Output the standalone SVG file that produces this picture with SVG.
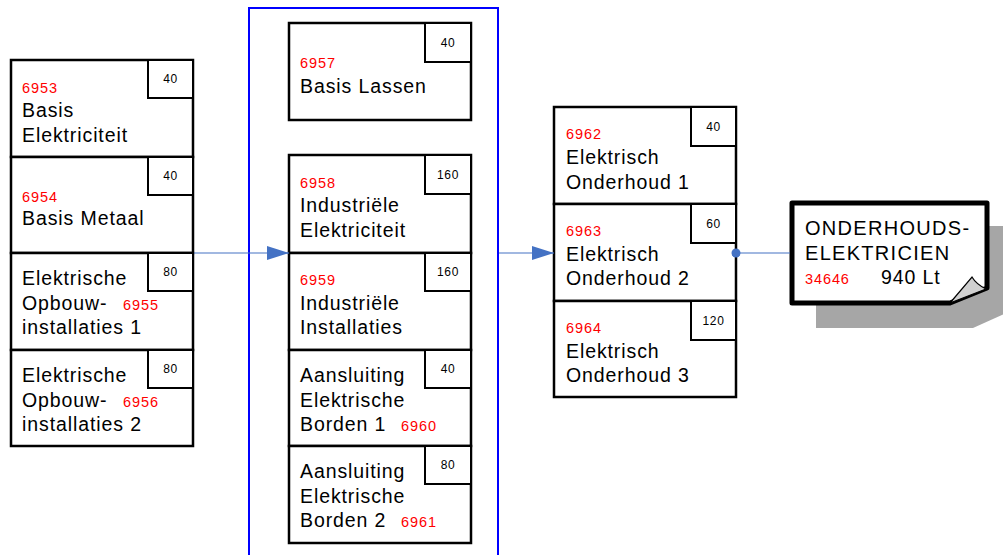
<svg xmlns="http://www.w3.org/2000/svg" width="1003" height="555" viewBox="0 0 1003 555">
<style>
.box{fill:#fff;stroke:#000;stroke-width:2.5}
.tag{fill:#fff;stroke:#000;stroke-width:2}
.t{font-family:"Liberation Sans",Arial,sans-serif;font-size:19.5px;letter-spacing:0.9px;fill:#000}
.r{font-family:"Liberation Sans",Arial,sans-serif;font-size:14.5px;letter-spacing:0.9px;fill:#ff0000}
.n{font-family:"Liberation Sans",Arial,sans-serif;font-size:12px;letter-spacing:0.6px;fill:#000;text-anchor:middle}
.conn{stroke:#4472c4;stroke-width:1.2;fill:none}
</style>
<defs>
<marker id="arr" markerWidth="22" markerHeight="14" refX="22" refY="7" orient="auto" markerUnits="userSpaceOnUse">
<path d="M0,0 L22,7 L0,14 Z" fill="#4472c4"/>
</marker>
</defs>

<rect id="group-container" x="249" y="8" width="249" height="560" fill="none" stroke="#0000ff" stroke-width="2"/>

<!-- Left column -->
<g id="n6953">
<rect class="box" x="11" y="60" width="182" height="97"/>
<rect class="tag" x="148" y="60" width="45" height="38"/>
<text class="n" x="170.5" y="83">40</text>
<text class="r" x="22" y="93">6953</text>
<text class="t" x="22" y="117">Basis</text>
<text class="t" x="22" y="142">Elektriciteit</text>
</g>
<g id="n6954">
<rect class="box" x="11" y="157" width="182" height="96"/>
<rect class="tag" x="148" y="157" width="45" height="38"/>
<text class="n" x="170.5" y="180">40</text>
<text class="r" x="22" y="202">6954</text>
<text class="t" x="22" y="225">Basis Metaal</text>
</g>
<g id="n6955">
<rect class="box" x="11" y="253" width="182" height="97"/>
<rect class="tag" x="148" y="253" width="45" height="38"/>
<text class="n" x="170.5" y="276">80</text>
<text class="t" x="22" y="285">Elektrische</text>
<text class="t" x="22" y="310">Opbouw-</text>
<text class="r" x="123" y="310">6955</text>
<text class="t" x="22" y="334">installaties 1</text>
</g>
<g id="n6956">
<rect class="box" x="11" y="350" width="182" height="96"/>
<rect class="tag" x="148" y="350" width="45" height="38"/>
<text class="n" x="170.5" y="373">80</text>
<text class="t" x="22" y="382">Elektrische</text>
<text class="t" x="22" y="407">Opbouw-</text>
<text class="r" x="123" y="407">6956</text>
<text class="t" x="22" y="431">installaties 2</text>
</g>

<!-- Middle column -->
<g id="n6957">
<rect class="box" x="289" y="23" width="182" height="97"/>
<rect class="tag" x="425" y="23" width="46" height="39"/>
<text class="n" x="448" y="47">40</text>
<text class="r" x="300" y="68">6957</text>
<text class="t" x="300" y="93">Basis Lassen</text>
</g>
<g id="n6958">
<rect class="box" x="289" y="155" width="182" height="98"/>
<rect class="tag" x="425" y="155" width="46" height="39"/>
<text class="n" x="448" y="179">160</text>
<text class="r" x="300" y="188">6958</text>
<text class="t" x="300" y="212">Industriële</text>
<text class="t" x="300" y="237">Elektriciteit</text>
</g>
<g id="n6959">
<rect class="box" x="289" y="253" width="182" height="97"/>
<rect class="tag" x="425" y="253" width="46" height="38"/>
<text class="n" x="448" y="276">160</text>
<text class="r" x="300" y="285">6959</text>
<text class="t" x="300" y="310">Industriële</text>
<text class="t" x="300" y="334">Installaties</text>
</g>
<g id="n6960">
<rect class="box" x="289" y="350" width="182" height="96"/>
<rect class="tag" x="425" y="350" width="46" height="38"/>
<text class="n" x="448" y="373">40</text>
<text class="t" x="300" y="382">Aansluiting</text>
<text class="t" x="300" y="407">Elektrische</text>
<text class="t" x="300" y="431">Borden 1</text>
<text class="r" x="401" y="431">6960</text>
</g>
<g id="n6961">
<rect class="box" x="289" y="446" width="182" height="97"/>
<rect class="tag" x="425" y="446" width="46" height="38"/>
<text class="n" x="448" y="469">80</text>
<text class="t" x="300" y="478">Aansluiting</text>
<text class="t" x="300" y="503">Elektrische</text>
<text class="t" x="300" y="527">Borden 2</text>
<text class="r" x="401" y="527">6961</text>
</g>

<!-- Right column -->
<g id="n6962">
<rect class="box" x="554" y="107" width="182" height="97"/>
<rect class="tag" x="691" y="107" width="45" height="39"/>
<text class="n" x="713.5" y="131">40</text>
<text class="r" x="566" y="139">6962</text>
<text class="t" x="566" y="164">Elektrisch</text>
<text class="t" x="566" y="189">Onderhoud 1</text>
</g>
<g id="n6963">
<rect class="box" x="554" y="204" width="182" height="97"/>
<rect class="tag" x="691" y="204" width="45" height="39"/>
<text class="n" x="713.5" y="228">60</text>
<text class="r" x="566" y="236">6963</text>
<text class="t" x="566" y="261">Elektrisch</text>
<text class="t" x="566" y="285">Onderhoud 2</text>
</g>
<g id="n6964">
<rect class="box" x="554" y="301" width="182" height="96"/>
<rect class="tag" x="691" y="301" width="45" height="39"/>
<text class="n" x="713.5" y="325">120</text>
<text class="r" x="566" y="333">6964</text>
<text class="t" x="566" y="358">Elektrisch</text>
<text class="t" x="566" y="382">Onderhoud 3</text>
</g>

<!-- Note -->
<g id="n34646">
<path d="M816,226 H1011 V311 L973,328 H816 Z" fill="#a6a6a6"/>
<path d="M792,203 H987 V288 L950,303 H792 Z" fill="#fff" stroke="#000" stroke-width="5" stroke-linejoin="round"/>
<path d="M950,303 L972,277 Q976,284 986,289 Z" fill="#d0d0d0" stroke="#000" stroke-width="1.2"/>
<text class="t" x="805" y="235" style="font-size:20px;letter-spacing:1.3px">ONDERHOUDS-</text>
<text class="t" x="805" y="260" style="font-size:20px;letter-spacing:1.3px">ELEKTRICIEN</text>
<text class="r" x="805" y="284">34646</text>
<text class="t" x="881" y="284">940 Lt</text>
</g>

<g id="connectors">
<line class="conn" x1="194" y1="253" x2="289" y2="253" marker-end="url(#arr)"/>
<line class="conn" x1="499" y1="253" x2="554" y2="253" marker-end="url(#arr)"/>
<line class="conn" x1="736" y1="253" x2="790" y2="253"/>
<circle cx="736" cy="253" r="4.5" fill="#4472c4"/>
</g>
</svg>
